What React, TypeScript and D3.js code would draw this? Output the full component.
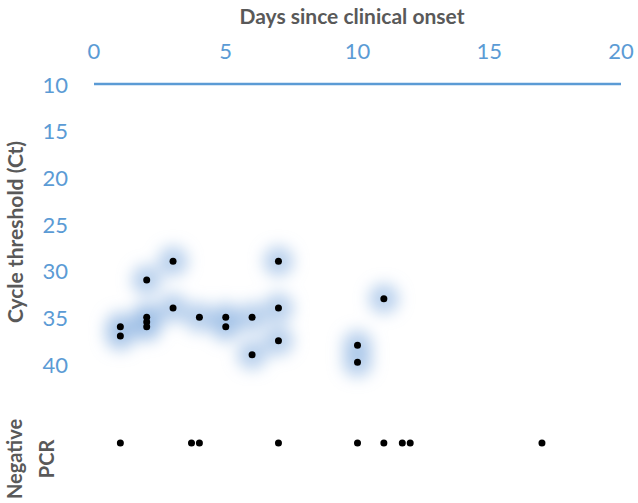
import React, { useEffect, useRef } from "react";
import * as d3 from "d3";

// positive PCR results: day since onset and Ct value
const posDays = [1, 1, 2, 2, 2, 2, 3, 3, 4, 5, 5, 6, 6, 7, 7, 7, 10, 10, 11];
const posCt = [36, 37, 31, 35, 35.5, 36, 29, 34, 35, 35, 36, 35, 39, 29, 34, 37.5, 38, 39.8, 33];

// negative PCR results: day since onset
const negDays = [1, 3.7, 4, 7, 10, 11, 11.7, 12, 17];

const xTicks = [0, 5, 10, 15, 20];
const yTicks = [10, 15, 20, 25, 30, 35, 40];

const BLUE = "#5b9bd5";
const GREY = "#595959";
const FONT = "Lato, 'Open Sans', sans-serif";

export default function App() {
  const ref = useRef(null);
  const width = 638;
  const height = 503;

  useEffect(() => {
    const svg = d3.select(ref.current).attr("width", width).attr("height", height);
    svg.selectAll("*").remove();

    const x = d3.scaleLinear().domain([0, 20]).range([94, 621]);
    const y = d3.scaleLinear().domain([10, 40]).range([84, 364]);
    const negY = 443;

    const defs = svg.append("defs");
    defs.append("filter")
      .attr("id", "glow")
      .attr("x", "-100%").attr("y", "-100%")
      .attr("width", "300%").attr("height", "300%")
      .append("feGaussianBlur")
      .attr("stdDeviation", 7.5);

    // top axis line
    svg.append("line")
      .attr("x1", x(0)).attr("x2", x(20))
      .attr("y1", y(10)).attr("y2", y(10))
      .attr("stroke", BLUE)
      .attr("stroke-width", 2.5);

    svg.append("g").selectAll("text").data(xTicks).enter().append("text")
      .attr("x", d => x(d))
      .attr("y", 50)
      .attr("text-anchor", "middle")
      .attr("dominant-baseline", "central")
      .attr("font-family", FONT)
      .attr("font-size", 22)
      .attr("fill", BLUE)
      .text(d => d);

    svg.append("g").selectAll("text").data(yTicks).enter().append("text")
      .attr("x", 68)
      .attr("y", d => y(d))
      .attr("text-anchor", "end")
      .attr("dominant-baseline", "central")
      .attr("font-family", FONT)
      .attr("font-size", 22)
      .attr("fill", BLUE)
      .text(d => d);

    svg.append("text")
      .attr("x", 352).attr("y", 15)
      .attr("text-anchor", "middle")
      .attr("dominant-baseline", "central")
      .attr("font-family", FONT)
      .attr("font-weight", "bold")
      .attr("font-size", 21)
      .attr("fill", GREY)
      .text("Days since clinical onset");

    svg.append("text")
      .attr("transform", "translate(14,232) rotate(-90)")
      .attr("text-anchor", "middle")
      .attr("dominant-baseline", "central")
      .attr("font-family", FONT)
      .attr("font-weight", "bold")
      .attr("font-size", 21)
      .attr("fill", GREY)
      .text("Cycle threshold (Ct)");

    const neg = svg.append("text")
      .attr("transform", "translate(0,459) rotate(-90)")
      .attr("text-anchor", "middle")
      .attr("font-family", FONT)
      .attr("font-weight", "bold")
      .attr("font-size", 20)
      .attr("fill", GREY);
    neg.append("tspan").attr("x", 0).attr("y", 22).text("Negative");
    neg.append("tspan").attr("x", 0).attr("y", 54).text("PCR");

    const pts = posDays.map((d, i) => ({ day: d, ct: posCt[i] }));

    svg.append("g").attr("filter", "url(#glow)").selectAll("circle").data(pts).enter().append("circle")
      .attr("cx", d => x(d.day))
      .attr("cy", d => y(d.ct))
      .attr("r", 15)
      .attr("fill", "#9dbde6")
      .attr("fill-opacity", 0.7);

    svg.append("g").selectAll("circle").data(pts).enter().append("circle")
      .attr("cx", d => x(d.day))
      .attr("cy", d => y(d.ct))
      .attr("r", 3.5)
      .attr("fill", "#000");

    svg.append("g").selectAll("circle").data(negDays).enter().append("circle")
      .attr("cx", d => x(d))
      .attr("cy", negY)
      .attr("r", 3.5)
      .attr("fill", "#000");
  });

  return (
    <div id="chart" style={{ position: "absolute", left: 0, top: 0 }}>
      <svg ref={ref} style={{ display: "block", background: "#fff" }} />
    </div>
  );
}
